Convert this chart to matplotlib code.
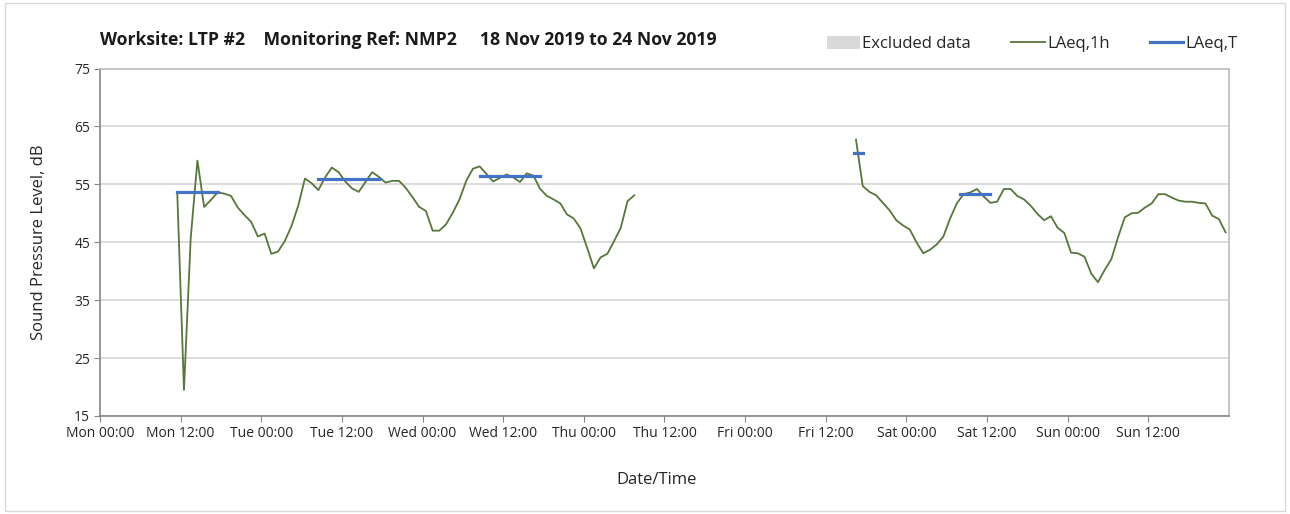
import matplotlib
matplotlib.use('Agg')
import matplotlib.pyplot as plt
import matplotlib.dates as mdates
from matplotlib.patches import Patch, Rectangle
from matplotlib.lines import Line2D
import pandas as pd

# hourly LAeq,1h readings, two monitoring runs
run1_start = '2019-11-18 11:30'
run1_laeq = [53.6, 19.5, 45.7, 59.1, 51.1, 52.3, 53.6, 53.4, 53.0, 51.0,
             49.7, 48.5, 46.0, 46.5, 43.0, 43.4, 45.2, 47.8, 51.3, 56.0,
             55.2, 54.0, 56.2, 57.9, 57.1, 55.5, 54.3, 53.7, 55.4, 57.1,
             56.3, 55.3, 55.6, 55.6, 54.4, 52.8, 51.1, 50.4, 47.0, 47.0,
             48.1, 50.1, 52.4, 55.6, 57.7, 58.1, 56.8, 55.5, 56.1, 56.7,
             56.2, 55.4, 56.9, 56.5, 54.2, 53.0, 52.4, 51.7, 49.8, 49.1,
             47.4, 44.0, 40.5, 42.4, 43.0, 45.2, 47.5, 52.1, 53.1]

run2_start = '2019-11-22 16:30'
run2_laeq = [62.7, 54.7, 53.7, 53.1, 51.8, 50.5, 48.8, 47.9, 47.2, 45.0,
             43.1, 43.7, 44.6, 46.0, 49.1, 51.7, 53.3, 53.6, 54.2, 52.9,
             51.8, 52.0, 54.2, 54.2, 53.0, 52.4, 51.3, 49.9, 48.8, 49.5,
             47.5, 46.6, 43.2, 43.1, 42.5, 39.6, 38.1, 40.2, 42.1, 45.9,
             49.3, 50.0, 50.1, 51.0, 51.7, 53.3, 53.3, 52.7, 52.2, 52.0,
             52.0, 51.8, 51.7, 49.6, 49.0, 46.7]

# LAeq,T over each working period
period_start = ['2019-11-18 11:30', '2019-11-19 08:30', '2019-11-20 08:30',
                '2019-11-22 16:15', '2019-11-23 08:00']
period_end = ['2019-11-18 17:30', '2019-11-19 17:30', '2019-11-20 17:30',
              '2019-11-22 17:30', '2019-11-23 12:30']
period_laeq = [53.6, 56.0, 56.4, 60.4, 53.3]

title = 'Worksite: LTP #2    Monitoring Ref: NMP2     18 Nov 2019 to 24 Nov 2019'

green = '#56763a'
blue = '#4472c4'
grid_c = '#d9d9d9'
txt = '#262626'

plt.rcParams['font.family'] = ['Open Sans', 'DejaVu Sans']

fig = plt.figure(figsize=(12.9, 5.14), dpi=100)
ax = fig.add_axes([0.0775, 0.1907, 0.8752, 0.676])

for start, vals in [(run1_start, run1_laeq), (run2_start, run2_laeq)]:
    t = pd.date_range(start, periods=len(vals), freq='h')
    ax.plot(t, vals, color=green, lw=1.3, zorder=3)

for s, e, v in zip(period_start, period_end, period_laeq):
    ax.plot([pd.Timestamp(s), pd.Timestamp(e)], [v, v], color=blue, lw=2.3,
            solid_capstyle='projecting', zorder=4)

ax.set_xlim(pd.Timestamp('2019-11-18'), pd.Timestamp('2019-11-25'))
ax.set_ylim(15, 75)
ax.set_yticks(range(15, 76, 10))
ax.xaxis.set_major_locator(mdates.HourLocator(byhour=[0, 12]))
ax.xaxis.set_major_formatter(mdates.DateFormatter('%a %H:%M'))
ax.xaxis.set_minor_locator(mdates.DayLocator())
ticks = ax.get_xticks()
ax.set_xticks(ticks[:-1])

ax.grid(axis='y', which='major', color=grid_c, lw=1.3, zorder=0)
ax.grid(axis='x', which='minor', color=grid_c, lw=1.3, zorder=0)
ax.set_axisbelow(True)
ax.tick_params(axis='both', which='major', length=4, color='#868686',
               labelsize=10, labelcolor=txt, pad=3)
ax.tick_params(axis='x', which='minor', length=0)

for side in ['left', 'bottom']:
    ax.spines[side].set_color('#868686')
    ax.spines[side].set_linewidth(1.2)
for side in ['top', 'right']:
    ax.spines[side].set_color('#bfbfbf')
    ax.spines[side].set_linewidth(1.2)

ax.set_ylabel('Sound Pressure Level, dB', fontsize=12, color=txt)
ax.yaxis.set_label_coords(-0.047, 0.5)
ax.set_xlabel('Date/Time', fontsize=12, color=txt)
ax.xaxis.set_label_coords(0.493, -0.16)

fig.text(0.0775, 0.922, title, fontsize=12.7, fontweight='bold', color='#1a1a1a',
         va='center', ha='left')

handles = [Patch(facecolor='#d9d9d9', edgecolor='none'),
           Line2D([], [], color=green, lw=1.3),
           Line2D([], [], color=blue, lw=2.3)]
fig.legend(handles, ['Excluded data', 'LAeq,1h', 'LAeq,T'], ncol=3,
           loc='center right', bbox_to_anchor=(0.971, 0.914), frameon=False,
           fontsize=12, handlelength=2.0, handleheight=0.8,
           handletextpad=0.15, columnspacing=2.4, labelcolor=txt)

fig.patches.append(Rectangle((0.004, 0.006), 0.992, 0.988, transform=fig.transFigure,
                             fill=False, edgecolor='#d9d9d9', lw=1))

fig.savefig('out.png', dpi=100)
